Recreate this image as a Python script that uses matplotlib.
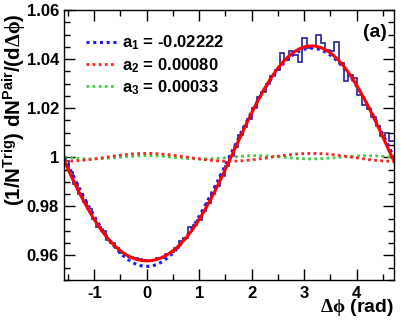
import numpy as np
import matplotlib
matplotlib.use('Agg')
import matplotlib.pyplot as plt
from matplotlib.ticker import MultipleLocator

plt.rcParams['font.family'] = ['Liberation Sans', 'DejaVu Sans']
plt.rcParams['font.weight'] = 'bold'
plt.rcParams['axes.unicode_minus'] = False
plt.rcParams['mathtext.fontset'] = 'custom'
plt.rcParams['mathtext.rm'] = 'Liberation Sans:bold'
plt.rcParams['mathtext.bf'] = 'Liberation Sans:bold'
plt.rcParams['mathtext.it'] = 'Liberation Sans:bold'
plt.rcParams['mathtext.sf'] = 'Liberation Serif'

# histogram: 72 bins over [-pi/2, 3pi/2]
counts = [0.9985, 0.9940, 0.9890, 0.9850, 0.9818, 0.9790, 0.9748, 0.9718,
          0.9700, 0.9662, 0.9649, 0.9630, 0.9612, 0.9600, 0.9594, 0.9590,
          0.9585, 0.9580, 0.9578, 0.9583, 0.9588, 0.9590, 0.9605, 0.9614,
          0.9630, 0.9660, 0.9672, 0.9718, 0.9725, 0.9745, 0.9782, 0.9815,
          0.9850, 0.9885, 0.9925, 0.9965, 1.0005, 1.0040, 1.0090, 1.0125,
          1.0155, 1.0200, 1.0245, 1.0265, 1.0300, 1.0330, 1.0355, 1.0424,
          1.0398, 1.0434, 1.0418, 1.0390, 1.0486, 1.0445, 1.0452, 1.0498,
          1.0466, 1.0438, 1.0432, 1.0470, 1.0385, 1.0310, 1.0335, 1.0323,
          1.0255, 1.0215, 1.0195, 1.0165, 1.0128, 1.0085, 1.0100, 1.0065]
edges = np.linspace(-np.pi / 2, 3 * np.pi / 2, len(counts) + 1)

# fit coefficients
a1 = -0.02222
a2 = 0.00080
a3 = 0.00033
labels = ['a$_{1}$ = -0.02222', 'a$_{2}$ = 0.00080', 'a$_{3}$ = 0.00033']

x = np.linspace(-np.pi / 2, 3 * np.pi / 2, 400)
f1 = 1 + 2 * a1 * np.cos(x)
f2 = 1 + 2 * a2 * np.cos(2 * x)
f3 = 1 + 2 * a3 * np.cos(3 * x)
ftot = 1 + 2 * a1 * np.cos(x) + 2 * a2 * np.cos(2 * x) + 2 * a3 * np.cos(3 * x)

fig = plt.figure(figsize=(4.07, 3.23), dpi=100)
ax = fig.add_axes([0.158, 0.133, 0.810, 0.836])

ax.stairs(counts, edges, baseline=None, color='#22229a', lw=1.2)
dots = (0, (1, 1.2))
l3, = ax.plot(x, f3, color='#44cc44', lw=2, ls=dots)
l2, = ax.plot(x, f2, color='#ff2020', lw=2, ls=dots)
l1, = ax.plot(x, f1, color='#1a1aff', lw=2.2, ls=dots)
ax.plot(x, ftot, color='#ff0000', lw=2.2)

ax.set_xlim(-np.pi / 2, 3 * np.pi / 2)
ax.set_ylim(0.95, 1.06)
ax.set_xticks([-1, 0, 1, 2, 3, 4])
ax.xaxis.set_minor_locator(MultipleLocator(0.5))
ax.set_yticks([0.96, 0.98, 1.0, 1.02, 1.04, 1.06])
ax.set_yticklabels(['0.96', '0.98', '1', '1.02', '1.04', '1.06'])
ax.yaxis.set_minor_locator(MultipleLocator(0.005))
ax.tick_params(which='both', direction='in', top=True, right=True,
               labelsize=12, width=1)
ax.tick_params(which='major', length=8, pad=4)
ax.tick_params(which='minor', length=4)
for s in ax.spines.values():
    s.set_linewidth(1)

ax.set_xlabel(r'$\mathsf{\Delta\phi}$ (rad)', fontsize=14, fontweight='bold',
              ha='right', va='center')
ax.xaxis.set_label_coords(1.0, -0.1)
ax.set_ylabel(r'(1/N$^{Trig}$) dN$^{Pair}$/(d$\mathsf{\Delta\phi}$)',
              fontsize=14.8, fontweight='bold', va='center')
ax.yaxis.set_label_coords(-0.149, 0.63)

ax.legend([l1, l2, l3], labels, loc='upper left', bbox_to_anchor=(0.035, 0.95),
          frameon=False, fontsize=12, handlelength=1.8, handletextpad=0.35,
          labelspacing=0.22, borderaxespad=0.2)
ax.text(0.978, 0.918, '(a)', transform=ax.transAxes, ha='right', va='center',
        fontsize=14, fontweight='bold')

fig.savefig('out.png', dpi=100)
